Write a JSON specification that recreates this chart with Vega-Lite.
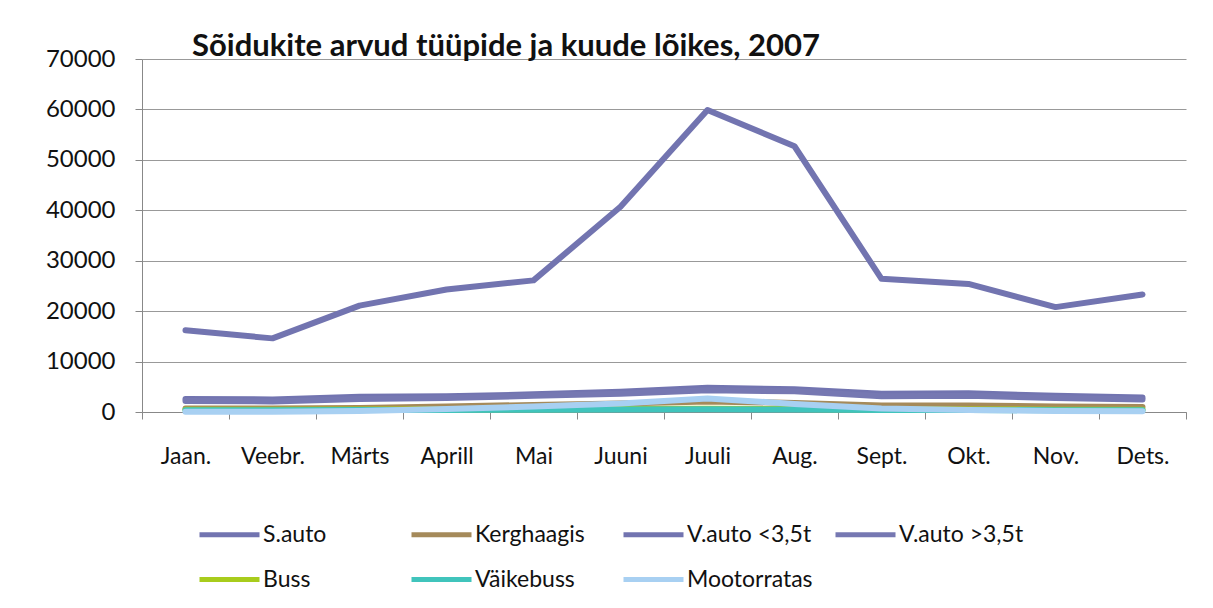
{
  "$schema": "https://vega.github.io/schema/vega-lite/v6.json",
  "autosize": {"type": "none"},
  "width": 1044,
  "height": 353,
  "padding": {"left": 142, "top": 59, "right": 27, "bottom": 196},
  "background": "white",
  "title": {
    "text": "Sõidukite arvud tüüpide ja kuude lõikes, 2007",
    "anchor": "start",
    "frame": "group",
    "dx": 50,
    "offset": -40,
    "baseline": "alphabetic",
    "font": "Lato",
    "fontSize": 31,
    "fontWeight": "bold",
    "color": "#111111"
  },
  "data": {
    "values": [
      {"m": "Jaan.", "s": "S.auto", "v": 16200},
      {"m": "Veebr.", "s": "S.auto", "v": 14600},
      {"m": "Märts", "s": "S.auto", "v": 21100},
      {"m": "Aprill", "s": "S.auto", "v": 24300},
      {"m": "Mai", "s": "S.auto", "v": 26100},
      {"m": "Juuni", "s": "S.auto", "v": 40700},
      {"m": "Juuli", "s": "S.auto", "v": 59900},
      {"m": "Aug.", "s": "S.auto", "v": 52700},
      {"m": "Sept.", "s": "S.auto", "v": 26400},
      {"m": "Okt.", "s": "S.auto", "v": 25400},
      {"m": "Nov.", "s": "S.auto", "v": 20800},
      {"m": "Dets.", "s": "S.auto", "v": 23300},
      {"m": "Jaan.", "s": "Kerghaagis", "v": 700},
      {"m": "Veebr.", "s": "Kerghaagis", "v": 700},
      {"m": "Märts", "s": "Kerghaagis", "v": 800},
      {"m": "Aprill", "s": "Kerghaagis", "v": 1100},
      {"m": "Mai", "s": "Kerghaagis", "v": 1400},
      {"m": "Juuni", "s": "Kerghaagis", "v": 1700},
      {"m": "Juuli", "s": "Kerghaagis", "v": 2100},
      {"m": "Aug.", "s": "Kerghaagis", "v": 1800},
      {"m": "Sept.", "s": "Kerghaagis", "v": 1300},
      {"m": "Okt.", "s": "Kerghaagis", "v": 1300},
      {"m": "Nov.", "s": "Kerghaagis", "v": 1100},
      {"m": "Dets.", "s": "Kerghaagis", "v": 1000},
      {"m": "Jaan.", "s": "V.auto <3,5t", "v": 2600},
      {"m": "Veebr.", "s": "V.auto <3,5t", "v": 2500},
      {"m": "Märts", "s": "V.auto <3,5t", "v": 3000},
      {"m": "Aprill", "s": "V.auto <3,5t", "v": 3100},
      {"m": "Mai", "s": "V.auto <3,5t", "v": 3500},
      {"m": "Juuni", "s": "V.auto <3,5t", "v": 4000},
      {"m": "Juuli", "s": "V.auto <3,5t", "v": 4800},
      {"m": "Aug.", "s": "V.auto <3,5t", "v": 4500},
      {"m": "Sept.", "s": "V.auto <3,5t", "v": 3600},
      {"m": "Okt.", "s": "V.auto <3,5t", "v": 3700},
      {"m": "Nov.", "s": "V.auto <3,5t", "v": 3200},
      {"m": "Dets.", "s": "V.auto <3,5t", "v": 2900},
      {"m": "Jaan.", "s": "V.auto >3,5t", "v": 2200},
      {"m": "Veebr.", "s": "V.auto >3,5t", "v": 2100},
      {"m": "Märts", "s": "V.auto >3,5t", "v": 2600},
      {"m": "Aprill", "s": "V.auto >3,5t", "v": 2800},
      {"m": "Mai", "s": "V.auto >3,5t", "v": 3200},
      {"m": "Juuni", "s": "V.auto >3,5t", "v": 3600},
      {"m": "Juuli", "s": "V.auto >3,5t", "v": 4300},
      {"m": "Aug.", "s": "V.auto >3,5t", "v": 4100},
      {"m": "Sept.", "s": "V.auto >3,5t", "v": 3100},
      {"m": "Okt.", "s": "V.auto >3,5t", "v": 3200},
      {"m": "Nov.", "s": "V.auto >3,5t", "v": 2800},
      {"m": "Dets.", "s": "V.auto >3,5t", "v": 2500},
      {"m": "Jaan.", "s": "Buss", "v": 450},
      {"m": "Veebr.", "s": "Buss", "v": 450},
      {"m": "Märts", "s": "Buss", "v": 500},
      {"m": "Aprill", "s": "Buss", "v": 500},
      {"m": "Mai", "s": "Buss", "v": 550},
      {"m": "Juuni", "s": "Buss", "v": 600},
      {"m": "Juuli", "s": "Buss", "v": 650},
      {"m": "Aug.", "s": "Buss", "v": 600},
      {"m": "Sept.", "s": "Buss", "v": 500},
      {"m": "Okt.", "s": "Buss", "v": 500},
      {"m": "Nov.", "s": "Buss", "v": 450},
      {"m": "Dets.", "s": "Buss", "v": 450},
      {"m": "Jaan.", "s": "Väikebuss", "v": 350},
      {"m": "Veebr.", "s": "Väikebuss", "v": 350},
      {"m": "Märts", "s": "Väikebuss", "v": 400},
      {"m": "Aprill", "s": "Väikebuss", "v": 400},
      {"m": "Mai", "s": "Väikebuss", "v": 450},
      {"m": "Juuni", "s": "Väikebuss", "v": 500},
      {"m": "Juuli", "s": "Väikebuss", "v": 550},
      {"m": "Aug.", "s": "Väikebuss", "v": 500},
      {"m": "Sept.", "s": "Väikebuss", "v": 400},
      {"m": "Okt.", "s": "Väikebuss", "v": 400},
      {"m": "Nov.", "s": "Väikebuss", "v": 350},
      {"m": "Dets.", "s": "Väikebuss", "v": 350},
      {"m": "Jaan.", "s": "Mootorratas", "v": 50},
      {"m": "Veebr.", "s": "Mootorratas", "v": 50},
      {"m": "Märts", "s": "Mootorratas", "v": 200},
      {"m": "Aprill", "s": "Mootorratas", "v": 600},
      {"m": "Mai", "s": "Mootorratas", "v": 1100},
      {"m": "Juuni", "s": "Mootorratas", "v": 1700},
      {"m": "Juuli", "s": "Mootorratas", "v": 2700},
      {"m": "Aug.", "s": "Mootorratas", "v": 1600},
      {"m": "Sept.", "s": "Mootorratas", "v": 700},
      {"m": "Okt.", "s": "Mootorratas", "v": 400},
      {"m": "Nov.", "s": "Mootorratas", "v": 200},
      {"m": "Dets.", "s": "Mootorratas", "v": 150}
    ]
  },
  "mark": {"type": "line", "strokeWidth": 6, "strokeCap": "round", "strokeJoin": "round", "interpolate": "linear"},
  "encoding": {
    "x": {
      "field": "m",
      "type": "nominal",
      "sort": ["Jaan.", "Veebr.", "Märts", "Aprill", "Mai", "Juuni", "Juuli", "Aug.", "Sept.", "Okt.", "Nov.", "Dets."],
      "scale": {"type": "band", "paddingInner": 0, "paddingOuter": 0},
      "bandPosition": 0.5,
      "axis": {
        "title": null,
        "labelAngle": 0,
        "tickBand": "extent",
        "tickSize": 7,
        "tickColor": "#888888",
        "domainColor": "#888888",
        "labelPadding": 26,
        "labelFont": "Lato",
        "labelFontSize": 23,
        "labelColor": "#111111",
        "grid": false
      }
    },
    "y": {
      "field": "v",
      "type": "quantitative",
      "scale": {"domain": [0, 70000], "nice": false},
      "axis": {
        "title": null,
        "values": [0, 10000, 20000, 30000, 40000, 50000, 60000, 70000],
        "format": "d",
        "tickSize": 7,
        "tickColor": "#888888",
        "domainColor": "#888888",
        "gridColor": "#999999",
        "labelPadding": 20,
        "labelFont": "Lato",
        "labelFontSize": 24,
        "labelColor": "#111111"
      }
    },
    "color": {
      "field": "s",
      "type": "nominal",
      "scale": {
        "domain": ["S.auto", "Kerghaagis", "V.auto <3,5t", "V.auto >3,5t", "Buss", "Väikebuss", "Mootorratas"],
        "range": ["#7274b0", "#a58a5a", "#7274b0", "#7678b2", "#a8cc1c", "#40c4bc", "#a8d0f2"]
      },
      "legend": {
        "title": null,
        "orient": "none",
        "direction": "horizontal",
        "legendX": 55,
        "legendY": 443,
        "columns": 4,
        "gridAlign": "all",
        "columnPadding": 12,
        "rowPadding": -15,
        "symbolType": "stroke",
        "symbolSize": 3600,
        "symbolStrokeWidth": 5,
        "labelOffset": 1,
        "labelFont": "Lato",
        "labelFontSize": 23,
        "labelColor": "#111111",
        "labelLimit": 300
      }
    }
  },
  "config": {
    "view": {"stroke": null},
    "axis": {"domainWidth": 1, "gridWidth": 1}
  }
}
